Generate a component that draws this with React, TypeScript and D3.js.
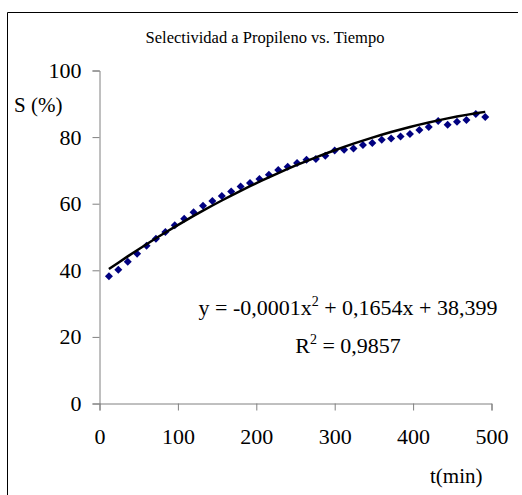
import React, { useRef, useEffect } from 'react';
import * as d3 from 'd3';

// tiempo (min) y selectividad (%)
const tiempos = [12, 24, 36, 48, 60, 72, 84, 96, 108, 120, 132, 144, 156, 168, 180, 192, 204, 216, 228, 240, 252,
  264, 276, 288, 300, 312, 324, 336, 348, 360, 372, 384, 396, 408, 420, 432, 444, 456, 468, 480, 492];
const selectividad = [38.2, 40.2, 42.6, 45.0, 47.4, 49.5, 51.5, 53.5, 55.5, 57.4, 59.4, 60.8, 62.3, 63.7, 65.2, 66.2,
  67.4, 68.7, 70.1, 71.1, 72.2, 73.2, 73.4, 74.4, 76.0, 76.2, 76.6, 77.6, 78.2, 79.2, 79.6, 80.2, 80.9, 82.1, 83.0,
  84.8, 83.7, 84.6, 85.1, 86.9, 86.0];
// coeficientes de la linea de tendencia (c, b, a) -> y = a x^2 + b x + c
const tendencia = [38.399, 0.1654, -0.000133];
const xTicks = [0, 100, 200, 300, 400, 500];
const yTicks = [0, 20, 40, 60, 80, 100];
const titulo = 'Selectividad a Propileno vs. Tiempo';
const ecuacion = ['y = -0,0001x', '2', ' + 0,1654x + 38,399'];
const r2 = ['R', '2', ' = 0,9857'];

const App = () => {
  const svgRef = useRef<SVGSVGElement>(null);

  useEffect(() => {
    const width = 522;
    const height = 495;
    const font = '"Liberation Serif", "Times New Roman", serif';
    const axisColor = '#808080';

    const svg = d3.select(svgRef.current);
    svg.selectAll('*').remove();
    svg.attr('width', width).attr('height', height).style('font-family', font);

    // marco del grafico
    svg.append('path')
      .attr('d', 'M7.5,495 L7.5,12.5 L518,12.5')
      .attr('fill', 'none')
      .attr('stroke', '#000')
      .attr('stroke-width', 1);

    const x = d3.scaleLinear().domain([0, 500]).range([99.5, 491.5]);
    const y = d3.scaleLinear().domain([0, 100]).range([403.5, 70.5]);

    // titulo
    svg.append('text')
      .attr('x', 265)
      .attr('y', 43)
      .attr('text-anchor', 'middle')
      .style('font-family', font)
      .style('font-size', '16.5px')
      .attr('fill', '#000')
      .text(titulo);

    // eje y
    const yAxis = svg.append('g').attr('transform', `translate(${x(0)},0)`)
      .call(d3.axisLeft(y).tickValues(yTicks).tickSize(7).tickPadding(11).tickFormat(d3.format('d')));
    yAxis.attr('font-family', null);
    yAxis.select('.domain').attr('stroke', axisColor);
    yAxis.selectAll('.tick line').attr('stroke', axisColor);
    yAxis.selectAll('.tick text')
      .style('font-family', font)
      .style('font-size', '22px')
      .attr('fill', '#000');

    // eje x
    const xAxis = svg.append('g').attr('transform', `translate(0,${y(0)})`)
      .call(d3.axisBottom(x).tickValues(xTicks).tickSize(7).tickPadding(18).tickFormat(d3.format('d')));
    xAxis.attr('font-family', null);
    xAxis.select('.domain').attr('stroke', axisColor);
    xAxis.selectAll('.tick line').attr('stroke', axisColor);
    xAxis.selectAll('.tick text')
      .style('font-family', font)
      .style('font-size', '22px')
      .attr('fill', '#000');

    // titulos de ejes
    svg.append('text')
      .attr('x', 14)
      .attr('y', 112)
      .style('font-family', font)
      .style('font-size', '21px')
      .attr('fill', '#000')
      .text('S (%)');

    svg.append('text')
      .attr('x', 430)
      .attr('y', 483)
      .style('font-family', font)
      .style('font-size', '21px')
      .attr('fill', '#000')
      .text('t(min)');

    // puntos (rombos)
    const data = tiempos.map((t, i) => ({ t, s: selectividad[i] }));
    const r = 4;
    svg.append('g')
      .selectAll('path')
      .data(data)
      .join('path')
      .attr('d', d => `M${x(d.t)},${y(d.s) - r} L${x(d.t) + r},${y(d.s)} L${x(d.t)},${y(d.s) + r} L${x(d.t) - r},${y(d.s)} Z`)
      .attr('fill', '#000080');

    // linea de tendencia (polinomica de grado 2)
    const fit = (t: number) => tendencia[0] + tendencia[1] * t + tendencia[2] * t * t;
    const line = d3.line<number>()
      .x(t => x(t))
      .y(t => y(fit(t)))
      .curve(d3.curveMonotoneX);
    svg.append('path')
      .datum(tiempos)
      .attr('d', line)
      .attr('fill', 'none')
      .attr('stroke', '#000')
      .attr('stroke-width', 2.5);

    // ecuacion y R2
    const eq = svg.append('text')
      .attr('x', 348)
      .attr('y', 315)
      .attr('text-anchor', 'middle')
      .style('font-family', font)
      .style('font-size', '22px')
      .attr('fill', '#000');
    eq.append('tspan').text(ecuacion[0]);
    eq.append('tspan').attr('dy', -9).style('font-size', '14px').text(ecuacion[1]);
    eq.append('tspan').attr('dy', 9).text(ecuacion[2]);

    const rt = svg.append('text')
      .attr('x', 348)
      .attr('y', 353)
      .attr('text-anchor', 'middle')
      .style('font-family', font)
      .style('font-size', '22px')
      .attr('fill', '#000');
    rt.append('tspan').text(r2[0]);
    rt.append('tspan').attr('dy', -9).style('font-size', '14px').text(r2[1]);
    rt.append('tspan').attr('dy', 9).text(r2[2]);
  }, []);

  return <svg ref={svgRef} style={{ position: 'absolute', left: 0, top: 0 }}></svg>;
};

export default App;
